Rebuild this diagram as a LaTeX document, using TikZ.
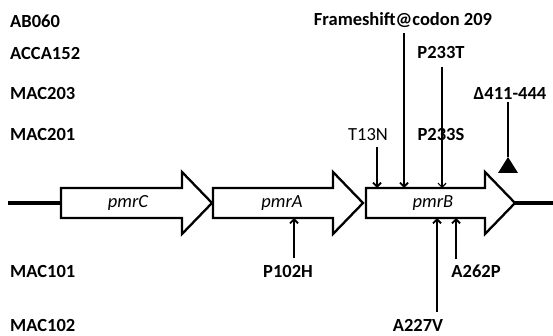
\documentclass[tikz,border=0pt]{standalone}
\usepackage{fontspec}
\setmainfont{Carlito}
\usetikzlibrary{arrows.meta, calc}

\tikzset{
  genebox/.style={draw, line width=2.3pt, fill=white, miter limit=10},
  backbone/.style={line width=3.5pt},
  mut/.style={->, line width=1.8pt},
  lbl/.style={font=\fontsize{18.5}{20}\selectfont\bfseries, inner sep=0pt, anchor=base},
  strain/.style={lbl, anchor=base west},
  genename/.style={font=\fontsize{18.5}{20}\selectfont\itshape, inner sep=0pt},
}

\begin{document}
\begin{tikzpicture}[x=1pt, y=-1pt, >={Straight Barb[length=4pt,width=8pt]}]
\useasboundingbox (0,0) rectangle (553,336);
% chromosome
\draw[backbone] (8,203)--(62,203);
\draw[backbone] (514,203)--(553,203);
% genes
\foreach \g/\xa/\xb/\xc/\xl in {C/61/182/212/128, A/213/333/363/282, B/366/485/515/433}{
  \draw[genebox] (\xa,188)--(\xb,188)--(\xb,172)--(\xc,203)--(\xb,234)--(\xb,218)--(\xa,218)--cycle;
  \coordinate (pmr\g-top) at (\xa,188);
  \coordinate (pmr\g-bot) at (\xa,218);
  \node[genename] (pmr\g) at (\xl,203) {pmr\g};
}
% strains
\node[strain] (ab060) at (10,28) {AB060};
\node[strain] (acca152) at (10,60) {ACCA152};
\node[strain] (mac203) at (10,100) {MAC203};
\node[strain] (mac201) at (10,141) {MAC201};
\node[strain] (mac101) at (10,277) {MAC101};
\node[strain] (mac102) at (10,331) {MAC102};
% mutations above pmrB
\node[lbl] (fs209) at (403,26) {Frameshift@codon 209};
\node[lbl] (p233t) at (441,59) {P233T};
\node[lbl] (del) at (510,100) {Δ411-444};
\node[lbl, font=\fontsize{18.5}{20}\selectfont] (t13n) at (368,141) {T13N};
\node[lbl] (p233s) at (441,141) {P233S};
\coordinate (t13n end) at (377,147);
\coordinate (fs209 end) at (404,33);
\coordinate (p233t end) at (442,67);
\draw[mut] (t13n end)--(t13n end |- pmrB-top);
\draw[mut] (fs209 end)--(fs209 end |- pmrB-top);
\draw[mut, line width=1.2pt] (p233t end)--(p233t end |- pmrB-top);
\coordinate (del end) at (508,102);
\coordinate (del tri) at (508,157);
\draw[line width=1.8pt] (del end)--(del tri);
\fill (del tri)--++(10,16)--++(-20,0)--cycle;
% mutations below
\node[lbl] (p102h) at (288,277) {P102H};
\node[lbl] (a262p) at (476,277) {A262P};
\node[lbl] (a227v) at (418,331) {A227V};
\coordinate (p102h end) at (294,258);
\coordinate (a262p end) at (456,259);
\coordinate (a227v end) at (437,312);
\draw[mut] (p102h end)--(p102h end |- pmrA-bot);
\draw[mut] (a262p end)--(a262p end |- pmrB-bot);
\draw[mut] (a227v end)--(a227v end |- pmrB-bot);
\end{tikzpicture}
\end{document}
